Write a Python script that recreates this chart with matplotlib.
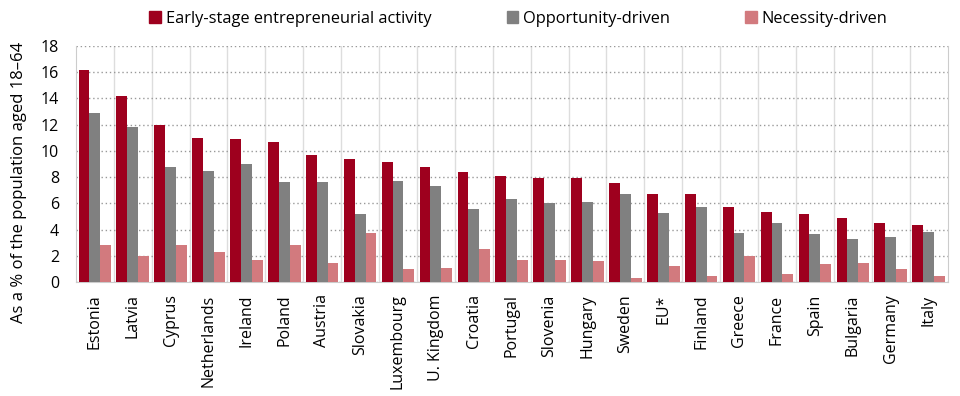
import numpy as np
import matplotlib
matplotlib.use("Agg")
import matplotlib.pyplot as plt
from matplotlib.patches import Patch

countries = ["Estonia", "Latvia", "Cyprus", "Netherlands", "Ireland", "Poland",
             "Austria", "Slovakia", "Luxembourg", "U. Kingdom", "Croatia",
             "Portugal", "Slovenia", "Hungary", "Sweden", "EU*", "Finland",
             "Greece", "France", "Spain", "Bulgaria", "Germany", "Italy"]
early = [16.15, 14.15, 12.0, 11.0, 10.9, 10.65, 9.65, 9.4, 9.15, 8.75, 8.35,
         8.1, 7.95, 7.9, 7.55, 6.7, 6.7, 5.7, 5.3, 5.15, 4.85, 4.5, 4.35]
opportunity = [12.85, 11.8, 8.8, 8.5, 9.0, 7.6, 7.65, 5.15, 7.7, 7.3, 5.55,
               6.3, 6.0, 6.1, 6.7, 5.25, 5.75, 3.7, 4.5, 3.65, 3.25, 3.45, 3.8]
necessity = [2.85, 2.0, 2.85, 2.3, 1.65, 2.8, 1.45, 3.75, 0.95, 1.1, 2.5,
             1.65, 1.7, 1.6, 0.3, 1.25, 0.45, 1.95, 0.6, 1.35, 1.45, 1.0, 0.45]
series_names = ["Early-stage entrepreneurial activity", "Opportunity-driven",
                "Necessity-driven"]
colors = ["#9E001E", "#808080", "#D27A7E"]

plt.rcParams['font.family'] = ['Open Sans', 'DejaVu Sans']

fig = plt.figure(figsize=(9.6, 3.96), dpi=100)
ax = fig.add_axes([0.079, 0.288, 0.908, 0.596])

x = np.arange(len(countries))
w = 0.286
for i, vals in enumerate([early, opportunity, necessity]):
    ax.bar(x + (i - 1) * w, vals, width=w, color=colors[i], zorder=3,
           linewidth=0)

ax.set_xlim(-0.5, len(countries) - 0.5)
ax.set_ylim(0, 18)
ax.set_yticks(range(0, 19, 2))
ax.set_xticks(x)
ax.set_xticklabels(countries, rotation=90, fontsize=11.5)
ax.tick_params(axis='y', labelsize=11.5, length=0, pad=12)
ax.tick_params(axis='x', length=0, pad=9)

ax.yaxis.grid(True, linestyle=(0, (1, 2)), color="#999999", linewidth=1, zorder=0)
for b in np.arange(0.5, len(countries) - 0.5, 1):
    ax.axvline(b, color="#DDDDDD", linewidth=1, zorder=1)
for s in ["left", "right", "bottom"]:
    ax.spines[s].set_color("#CCCCCC")
ax.spines["top"].set_visible(False)

ax.set_ylabel("As a % of the population aged 18\u201364", fontsize=12)
ax.yaxis.set_label_coords(-0.056, 0.42)

handles = [Patch(color=c) for c in colors]
fig.legend(handles, series_names, loc="upper center", bbox_to_anchor=(0.54, 1.01),
           ncol=3, frameon=False, fontsize=11.8, handlelength=0.7, handleheight=0.7,
           handletextpad=0.3, columnspacing=4.6)

fig.savefig("out.png", dpi=100)
